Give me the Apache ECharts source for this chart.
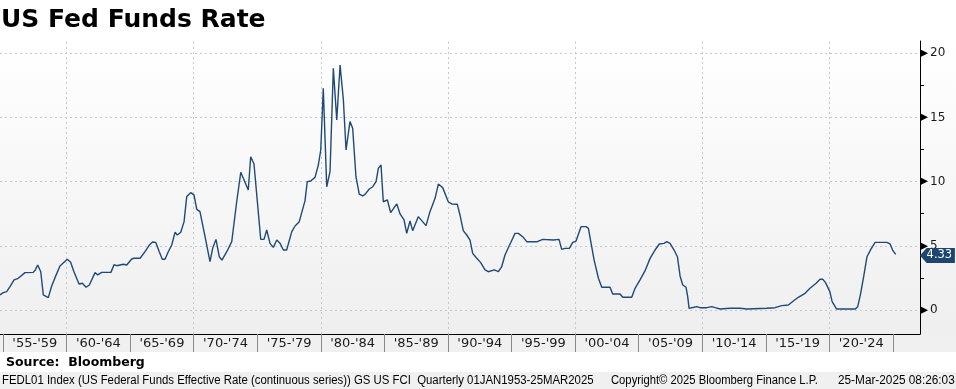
<!DOCTYPE html>
<html><head><meta charset="utf-8">
<script src="https://cdn.jsdelivr.net/npm/echarts@6/dist/echarts.min.js"></script>
<style>html,body{margin:0;padding:0;background:#fff}#c{width:956px;height:389px}</style>
</head><body><div id="c"></div>
<script>
// [decimal year, effective fed funds rate %]
const rates1955to1968 = [[1954.76,1.17],[1955.02,1.35],[1955.29,1.43],[1955.55,1.82],[1955.87,2.34],[1956.2,2.47],[1956.73,2.91],[1957.38,2.93],[1957.54,3.12],[1957.73,3.5],[1957.97,2.98],[1958.17,1.17],[1958.56,0.96],[1958.83,1.87],[1959.09,2.52],[1959.48,3.43],[1960.06,3.95],[1960.32,3.71],[1960.58,2.98],[1960.98,2.02],[1961.24,2.08],[1961.53,1.77],[1961.79,1.95],[1962.24,2.91],[1962.45,2.73],[1962.76,2.93],[1963.49,2.93],[1963.73,3.53],[1963.94,3.45],[1964.46,3.56],[1964.73,3.5],[1965.12,3.97],[1965.3,4.03],[1965.78,4.03],[1966.17,4.54],[1966.51,5.06],[1966.77,5.3],[1967.01,5.27],[1967.29,4.54],[1967.53,3.95],[1967.74,3.95],[1968.0,4.54],[1968.27,5.06],[1968.53,6.05],[1968.71,5.84],[1968.98,6.05]];
const rates1969to1978 = [[1969.24,6.88],[1969.45,8.83],[1969.76,9.14],[1970.02,8.96],[1970.24,7.84],[1970.49,7.66],[1970.89,5.71],[1971.28,3.76],[1971.49,4.8],[1971.75,5.5],[1972.01,4.15],[1972.22,3.89],[1972.6,4.54],[1972.99,5.32],[1973.38,8.43],[1973.7,10.72],[1974.29,9.35],[1974.48,11.94],[1974.74,11.37],[1975.27,5.5],[1975.53,5.5],[1975.74,6.23],[1976.0,5.19],[1976.26,4.88],[1976.53,5.45],[1976.79,5.19],[1977.05,4.67],[1977.31,4.67],[1977.71,6.1],[1977.97,6.54],[1978.3,6.88],[1978.75,8.5],[1978.93,10.0]];
const rates1979to1989 = [[1979.2,10.05],[1979.54,10.33],[1979.8,11.29],[1979.99,12.46],[1980.19,17.27],[1980.46,9.6],[1980.72,10.77],[1980.98,18.82],[1981.25,14.8],[1981.51,19.08],[1981.77,16.36],[1981.98,12.46],[1982.29,14.67],[1982.5,14.15],[1982.76,10.38],[1983.02,9.03],[1983.29,8.88],[1983.47,9.0],[1983.81,9.42],[1984.08,9.6],[1984.34,10.0],[1984.52,11.03],[1984.73,11.29],[1984.91,8.43],[1985.23,8.57],[1985.49,7.58],[1985.97,8.26],[1986.23,7.48],[1986.54,7.01],[1986.75,5.97],[1987.01,6.93],[1987.22,6.18],[1987.66,7.27],[1988.27,6.57],[1988.58,7.66],[1988.98,8.7],[1989.24,9.81],[1989.58,9.53]];
const rates1990to2004 = [[1990.02,8.43],[1990.29,8.26],[1990.73,8.23],[1990.94,7.4],[1991.2,6.18],[1991.47,5.84],[1991.73,5.45],[1991.94,4.41],[1992.26,4.03],[1992.57,3.69],[1992.91,3.12],[1993.17,2.98],[1993.64,3.12],[1993.96,2.98],[1994.22,3.37],[1994.48,4.28],[1994.88,5.14],[1995.27,5.97],[1995.53,5.97],[1995.92,5.66],[1996.19,5.32],[1997.02,5.32],[1997.45,5.5],[1998.28,5.45],[1998.73,5.5],[1998.94,4.72],[1999.2,4.8],[1999.54,4.8],[1999.81,5.27],[2000.07,5.37],[2000.46,6.49],[2000.86,6.49],[2001.04,6.36],[2001.49,3.89],[2001.83,2.47],[2002.09,1.77],[2002.74,1.77],[2002.95,1.25],[2003.53,1.25],[2003.74,0.99],[2004.45,0.99],[2004.71,1.69]];
const rates2005to2025 = [[2005.1,2.34],[2005.5,3.06],[2005.89,4.02],[2006.28,4.67],[2006.62,5.14],[2006.99,5.19],[2007.2,5.32],[2007.46,5.19],[2007.78,4.67],[2008.04,4.15],[2008.25,2.65],[2008.46,1.95],[2008.72,1.77],[2008.85,1.04],[2008.96,0.13],[2009.35,0.21],[2009.56,0.26],[2009.82,0.18],[2010.35,0.18],[2010.74,0.26],[2011.0,0.18],[2011.4,0.08],[2012.18,0.13],[2012.97,0.13],[2013.5,0.08],[2015.07,0.13],[2015.72,0.18],[2016.25,0.34],[2016.77,0.39],[2017.16,0.7],[2017.55,0.99],[2018.08,1.3],[2018.47,1.69],[2018.95,2.08],[2019.26,2.39],[2019.47,2.39],[2019.69,2.13],[2020.03,1.43],[2020.21,0.65],[2020.55,0.08],[2022.04,0.08],[2022.22,0.26],[2022.43,1.17],[2022.69,2.6],[2022.95,4.15],[2023.25,4.72],[2023.59,5.27],[2024.51,5.27],[2024.77,5.14],[2024.99,4.62],[2025.21,4.33]];

const periodStarts = [1955,1960,1965,1970,1975,1980,1985,1990,1995,2000,2005,2010,2015,2020,2025];
const periodMids = [1957.5,1962.5,1967.5,1972.5,1977.5,1982.5,1987.5,1992.5,1997.5,2002.5,2007.5,2012.5,2017.5,2022.5];
const periodLabels = ["'55-'59","'60-'64","'65-'69","'70-'74","'75-'79","'80-'84","'85-'89","'90-'94","'95-'99","'00-'04","'05-'09","'10-'14","'15-'19","'20-'24"];
const decadeGridLines = [1960,1970,1980,1990,2000,2010,2020];
const yTickValues = [0,2.5,5,7.5,10,12.5,15,17.5,20];
const yLabelValues = [0,5,10,15,20];
const X_MIN = 1954.764, X_MAX = 2027.12, Y_MIN = -1.87, Y_MAX = 20.95;

const allRates = [].concat(rates1955to1968, rates1969to1978, rates1979to1989, rates1990to2004, rates2005to2025);
const last = allRates[allRates.length - 1];

const chart = echarts.init(document.getElementById('c'));
const gridMarks = decadeGridLines.map(v => ({xAxis: v})).concat(yLabelValues.map(v => ({yAxis: v})));
const footFont = '12px "Liberation Sans"';

chart.setOption({
  animation: false,
  backgroundColor: '#ffffff',
  graphic: [
    {type:'rect', z:-100, shape:{x:0,y:41,width:956,height:293}, style:{fill:new echarts.graphic.LinearGradient(0,0,0,1,[{offset:0,color:'#ffffff'},{offset:1,color:'#efefef'}])}},
    {type:'rect', z:-100, shape:{x:0,y:334,width:956,height:18}, style:{fill:'#f0f0f0'}},
    {type:'rect', z:-100, shape:{x:0,y:372,width:956,height:17}, style:{fill:'#f0f0f0'}},
    {type:'text', x:1, y:20, style:{text:'US Fed Funds Rate', font:'bold 25px "DejaVu Sans"', fill:'#000', verticalAlign:'middle'}},
    {type:'text', x:6, y:363, style:{text:'Source:  Bloomberg', font:'bold 12.5px "DejaVu Sans"', fill:'#000', verticalAlign:'middle'}},
    {type:'text', x:2, y:381, scaleX:0.948, style:{text:'FEDL01 Index (US Federal Funds Effective Rate (continuous series)) GS US FCI  Quarterly 01JAN1953-25MAR2025', font:footFont, fill:'#000', verticalAlign:'middle'}},
    {type:'text', x:611, y:381, scaleX:0.937, style:{text:'Copyright\u00a9 2025 Bloomberg Finance L.P.', font:footFont, fill:'#000', verticalAlign:'middle'}},
    {type:'text', x:838, y:381, scaleX:0.983, style:{text:'25-Mar-2025 08:26:03', font:footFont, fill:'#000', verticalAlign:'middle'}}
  ],
  grid: {left:0, right:36, top:41, bottom:55, containLabel:false},
  xAxis: {
    type:'value', min:X_MIN, max:X_MAX,
    axisLine:{show:true, onZero:false, lineStyle:{color:'#000', width:1}},
    axisTick:{show:true, customValues: periodStarts, length:18, lineStyle:{color:'#8a8a8a', width:1}},
    axisLabel:{show:true, customValues: periodMids, margin:3, color:'#1a1a1a', fontFamily:'DejaVu Sans', fontSize:13,
      formatter: v => periodLabels[Math.round((v - periodMids[0]) / 5)]},
    splitLine:{show:false}
  },
  yAxis: {
    type:'value', position:'right', min:Y_MIN, max:Y_MAX,
    axisLine:{show:true, lineStyle:{color:'#000', width:1}},
    axisTick:{show:true, customValues: yTickValues, length:4, lineStyle:{color:'#000'}},
    axisLabel:{show:true, customValues: yLabelValues, margin:0, align:'left',
      formatter: v => '{t|\u25B6}{v|' + v + '}',
      rich:{t:{fontSize:10.5, color:'#000', fontFamily:'DejaVu Sans'}, v:{fontSize:12, color:'#1a1a1a', fontFamily:'DejaVu Sans', padding:[0,0,0,2]}}},
    splitLine:{show:false}
  },
  series: [
    {type:'line', z:1, data:[], silent:true,
      markLine:{silent:true, z:1, symbol:'none', label:{show:false}, animation:false,
        lineStyle:{type:[2,3], color:'#c2c9d4', width:1}, data: gridMarks}},
    {type:'line', z:3, data: allRates, showSymbol:false, symbol:'none',
      lineStyle:{color:'#1f4a76', width:1.4},
      markPoint:{silent:true, z:10, symbol:'path://M0,7.5L7,0L36,0L36,15L7,15Z', symbolSize:[35,15], symbolOffset:['50%',1],
        itemStyle:{color:'#1c4670'},
        label:{show:true, position:'inside', offset:[2,0], color:'#fff', fontFamily:'DejaVu Sans', fontSize:11.5, formatter: p => p.value.toFixed(2)},
        data:[{coord:[X_MAX - 0.01, last[1]], value:last[1]}]}}
  ]
});
</script></body></html>
